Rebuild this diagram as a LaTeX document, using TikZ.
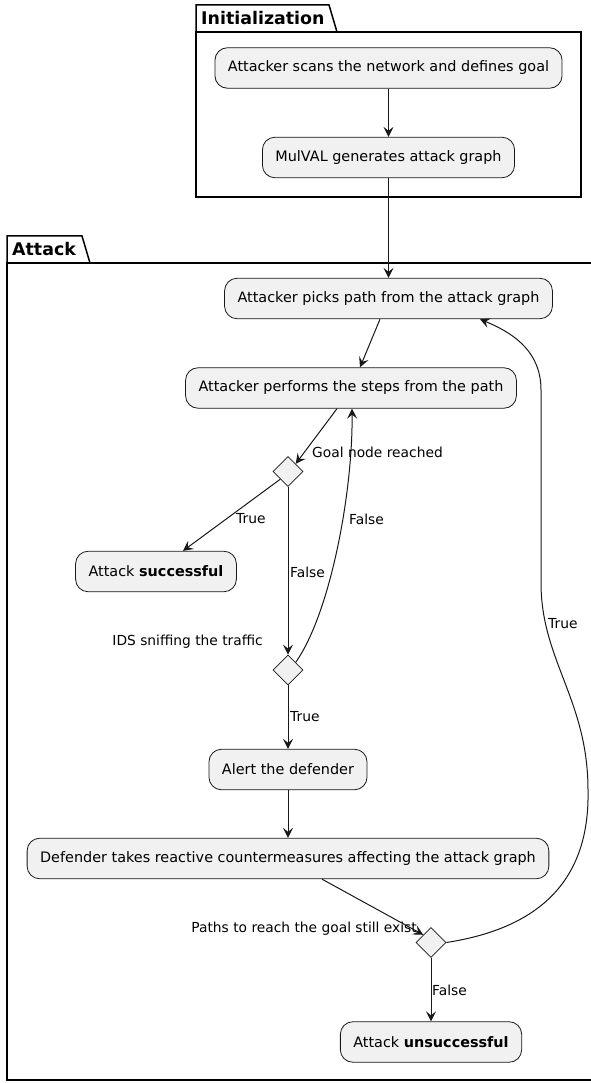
\documentclass[tikz,border=0pt]{standalone}
\usepackage{fontspec}
\setmainfont{DejaVu Sans}
\usetikzlibrary{arrows.meta,shapes.geometric}
\definecolor{ink}{HTML}{181818}
\definecolor{boxfill}{HTML}{F1F1F1}

\begin{document}
\begin{tikzpicture}[x=1pt,y=-1pt,
  act/.style={draw=ink, line width=0.8pt, fill=boxfill, rounded corners=12.5pt,
    inner xsep=13pt, inner ysep=0pt, minimum height=40.5pt,
    font=\fontsize{14.4}{17}\selectfont, text=black},
  choice/.style={draw=ink, line width=0.8pt, fill=boxfill, diamond, aspect=1,
    minimum size=30pt, inner sep=0pt},
  flow/.style={draw=ink, line width=1pt, -{Stealth[length=10pt,width=10pt,inset=4pt]}},
  lbl/.style={font=\fontsize{13.8}{16}\selectfont, inner sep=0pt, text=black},
  pkg/.style={draw=black, line width=1.5pt},
  pkgtitle/.style={font=\bfseries\fontsize{17.4}{20}\selectfont, inner sep=0pt, anchor=west}
]
\useasboundingbox (0,0) rectangle (590,1083);
\fill[white] (0,0) rectangle (590,1083);

% package frames
\draw[pkg] (196,32) -- (196,5) -- (329,5) -- (337,32);
\draw[pkg] (196,32) rectangle (581,197);
\node[pkgtitle] (tinit) at (201,18) {Initialization};

\draw[pkg] (7,263) -- (7,236) -- (82,236) -- (90,263);
\draw[pkg] (7,263) rectangle (594,1080);
\node[pkgtitle] (tattack) at (12,249) {Attack};

% activities
\node[act] (scan)   at (388.5,68)    {Attacker scans the network and defines goal};
\node[act] (mulval) at (388.5,157.5) {MulVAL generates attack graph};
\node[act] (pick)   at (388.5,298.5) {Attacker picks path from the attack graph};
\node[act] (steps)  at (351,388)     {Attacker performs the steps from the path};
\node[choice] (goal) at (288,471.5) {};
\node[act] (succ)   at (156,571.5)   {Attack \textbf{successful}};
\node[choice] (ids) at (288,670) {};
\node[act] (alert)  at (288,769.5) {Alert the defender};
\node[act] (def)    at (288,858.5)   {Defender takes reactive countermeasures affecting the attack graph};
\node[choice] (paths) at (431,942.5) {};
\node[act] (fail)   at (431,1042)    {Attack \textbf{unsuccessful}};

% connectors
\draw[flow] (scan) -- (mulval);
\draw[flow] (mulval) -- (pick);
\draw[flow] ([xshift=-8.5pt]pick.south) -- ([xshift=9pt]steps.north);
\draw[flow] ([xshift=-14pt]steps.south) -- (goal.north east);
\draw[flow] (goal.south west) -- ([xshift=27pt]succ.north);
\draw[flow] (goal.south) -- (ids.north);
\draw[flow] (ids.north east) .. controls (331,612) and (353,490) .. ([xshift=1pt]steps.south);
\draw[flow] (ids.south) -- (alert.north);
\draw[flow] (alert.south) -- (def.north);
\draw[flow] ([xshift=34pt]def.south) -- (paths.north west);
\draw[flow] (paths.south) -- (fail.north);
\draw[flow] (paths.east) .. controls (540,928) and (590,880) .. (588,790)
  .. controls (588,700) and (541,660) .. (541,583) -- (541,390)
  .. controls (541,348) and (508,331) .. ([xshift=91.5pt]pick.south);

% branch labels
\node[lbl, anchor=west] (lgoal)  at (312,452) {Goal node reached};
\node[lbl, anchor=west] (lt1)    at (236,519) {True};
\node[lbl, anchor=west] (lf1)    at (349,519) {False};
\node[lbl, anchor=west] (lf2)    at (290,572) {False};
\node[lbl, anchor=east] (lids)   at (263,642) {IDS sniffing the traffic};
\node[lbl, anchor=west] (lt2)    at (290,717) {True};
\node[lbl, anchor=east] (lpaths) at (417,929) {Paths to reach the goal still exist};
\node[lbl, anchor=west] (lf3)    at (432,990) {False};
\node[lbl, anchor=west] (lt3)    at (548,624) {True};
\end{tikzpicture}
\end{document}
